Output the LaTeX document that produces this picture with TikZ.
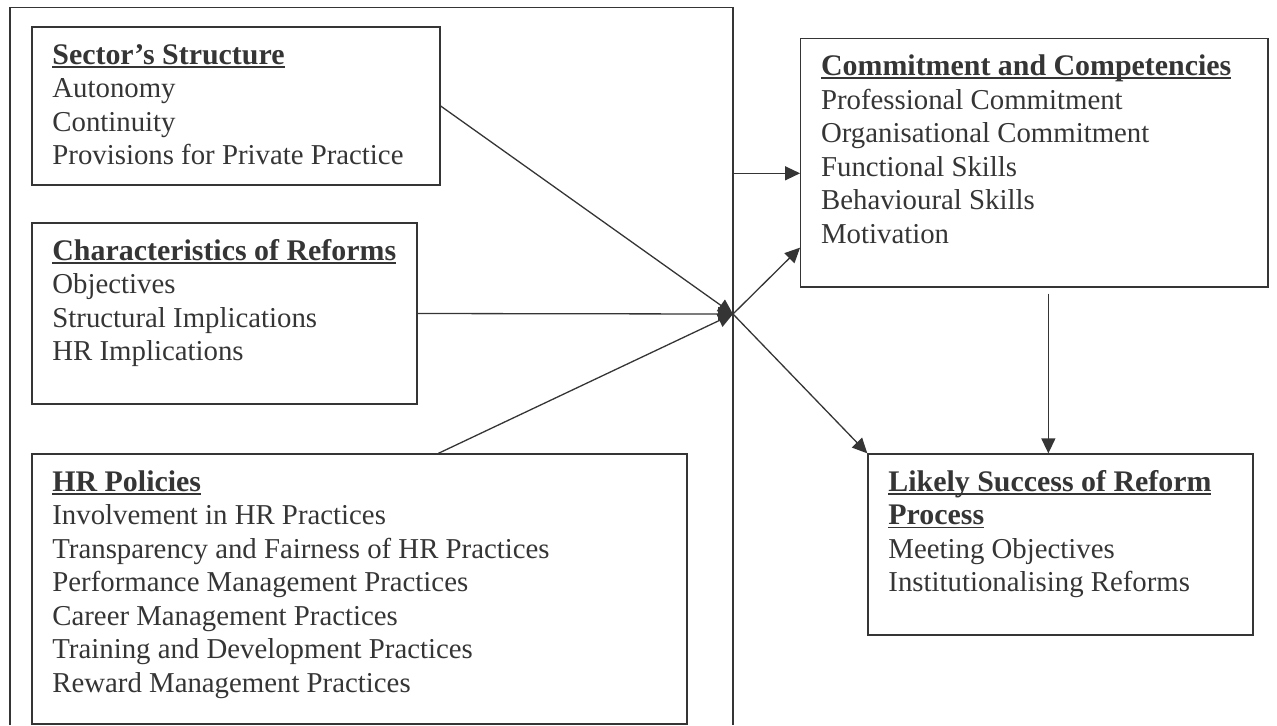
\documentclass[tikz,border=0pt]{standalone}
\usepackage{fontspec}
\setmainfont{Liberation Serif}
\usetikzlibrary{arrows.meta,calc,fit}
\definecolor{ink}{HTML}{353535}
% bold heading with a rule just under the baseline
\newsavebox\headbox
\newcommand\headline[1]{\sbox\headbox{\fontsize{14.95}{16.75}\selectfont\bfseries #1}%
  \rlap{\rule[-1.6pt]{\wd\headbox}{0.7pt}}\usebox\headbox}
\begin{document}
\begin{tikzpicture}[x=0.5pt,y=-0.5pt,
  frame/.style={draw=ink, line width=0.65pt},
  box/.style={draw=ink, line width=0.65pt, inner sep=0pt, rectangle},
  txt/.style={anchor=north west, inner sep=0pt, align=left, text=ink,
    font=\fontsize{14.4}{16.75}\selectfont},
  arr/.style={draw=ink, line width=0.65pt, -{Triangle[length=7.5pt,width=7pt]}}]
\useasboundingbox (0,0) rectangle (1277,725);

% outer frame around the three input groups, open at the bottom
\coordinate (fBL) at (10,725);
\coordinate (fTL) at (10,7.3);
\coordinate (fTR) at (733,7.3);
\coordinate (fBR) at (733,725);
\draw[frame] (fBL) -- (fTL) -- (fTR) -- (fBR);

% boxes
\node[box, fit={(32,27) (440,185)}] (b1) {};
\node[box, fit={(32,223) (417,404)}] (b2) {};
\node[box, fit={(32,454) (687,724)}] (b3) {};
\node[box, fit={(800.7,38.3) (1268,287)}] (b4) {};
\node[box, fit={(868,454) (1253,635)}] (b5) {};

% box texts
\node[txt] (t1) at (52,40.5) {\strut\headline{Sector’s Structure}\\
  Autonomy\\ Continuity\\ Provisions for Private Practice};
\node[txt] (t2) at (52,236.5) {\strut\headline{Characteristics of Reforms}\\
  Objectives\\ Structural Implications\\ HR Implications};
\node[txt] (t3) at (52,467.5) {\strut\headline{HR Policies}\\
  Involvement in HR Practices\\
  Transparency and Fairness of HR Practices\\
  Performance Management Practices\\
  Career Management Practices\\
  Training and Development Practices\\
  Reward Management Practices};
\node[txt] (t4) at (820.7,51.8) {\strut\headline{Commitment and Competencies}\\
  Professional Commitment\\ Organisational Commitment\\
  Functional Skills\\ Behavioural Skills\\ Motivation};
\node[txt] (t5) at (888,467.5) {\strut\headline{Likely Success of Reform}\\
  \headline{Process}\\
  Meeting Objectives\\ Institutionalising Reforms};

% connectors
\coordinate (hub) at (733,314);
\coordinate (frameR) at (733,173.3);
\coordinate (b3top) at ($(b3.north west)+(407,0)$);
\coordinate (b4in) at ($(b4.north west)+(0,210)$);
\coordinate (c45) at ($(b4.south west)+(248.3,0)$);

\draw[arr] (b1.east) -- (hub);
\draw[arr] (b2.east) -- (hub);
\draw[arr] (b3top) -- (hub);
\draw[arr] (hub) -- (b4in);
\draw[arr] (frameR) -- (frameR -| b4.west);
\draw[arr] (hub) -- (b5.north west);
\draw[arr, shorten <=3pt] (c45) -- (c45 |- b5.north);
\end{tikzpicture}
\end{document}
